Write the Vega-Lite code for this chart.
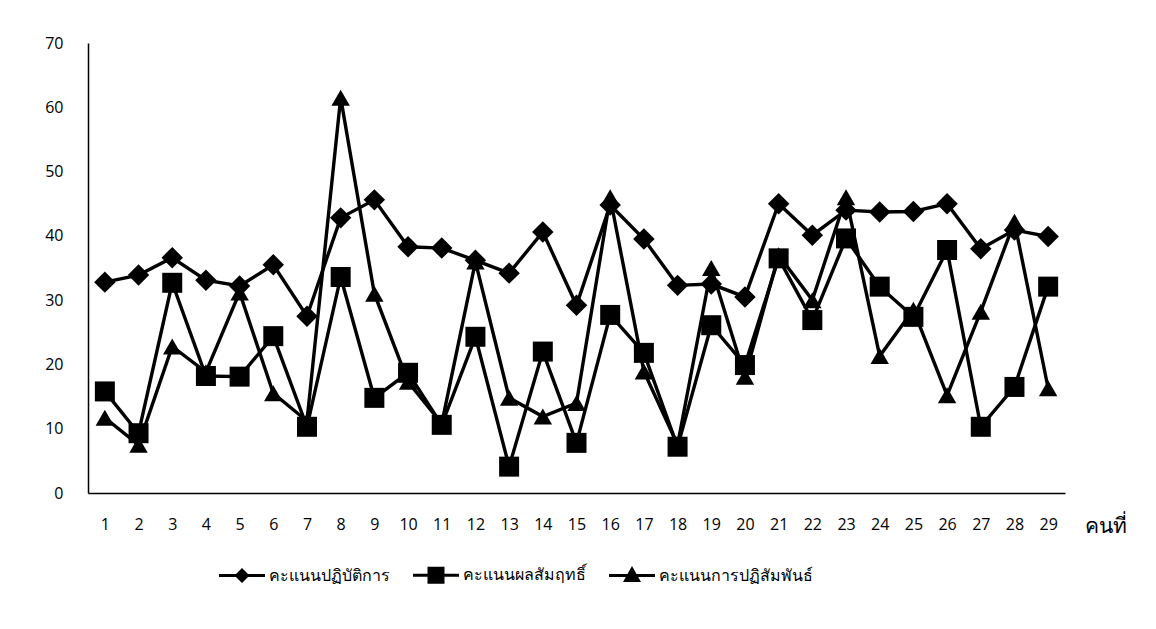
{
  "$schema": "https://vega.github.io/schema/vega-lite/v6.json",
  "width": 977,
  "height": 450,
  "autosize": "none",
  "padding": {"left": 88, "top": 43, "right": 91, "bottom": 136},
  "background": "white",
  "config": {"view": {"stroke": null}, "font": "Open Sans"},
  "data": {"values": [
    {"person": 1, "series": "คะแนนปฏิบัติการ", "score": 32.8},
    {"person": 2, "series": "คะแนนปฏิบัติการ", "score": 33.9},
    {"person": 3, "series": "คะแนนปฏิบัติการ", "score": 36.6},
    {"person": 4, "series": "คะแนนปฏิบัติการ", "score": 33.1},
    {"person": 5, "series": "คะแนนปฏิบัติการ", "score": 32.2},
    {"person": 6, "series": "คะแนนปฏิบัติการ", "score": 35.5},
    {"person": 7, "series": "คะแนนปฏิบัติการ", "score": 27.5},
    {"person": 8, "series": "คะแนนปฏิบัติการ", "score": 42.8},
    {"person": 9, "series": "คะแนนปฏิบัติการ", "score": 45.6},
    {"person": 10, "series": "คะแนนปฏิบัติการ", "score": 38.3},
    {"person": 11, "series": "คะแนนปฏิบัติการ", "score": 38.1},
    {"person": 12, "series": "คะแนนปฏิบัติการ", "score": 36.2},
    {"person": 13, "series": "คะแนนปฏิบัติการ", "score": 34.2},
    {"person": 14, "series": "คะแนนปฏิบัติการ", "score": 40.6},
    {"person": 15, "series": "คะแนนปฏิบัติการ", "score": 29.2},
    {"person": 16, "series": "คะแนนปฏิบัติการ", "score": 44.8},
    {"person": 17, "series": "คะแนนปฏิบัติการ", "score": 39.5},
    {"person": 18, "series": "คะแนนปฏิบัติการ", "score": 32.3},
    {"person": 19, "series": "คะแนนปฏิบัติการ", "score": 32.5},
    {"person": 20, "series": "คะแนนปฏิบัติการ", "score": 30.5},
    {"person": 21, "series": "คะแนนปฏิบัติการ", "score": 45.0},
    {"person": 22, "series": "คะแนนปฏิบัติการ", "score": 40.1},
    {"person": 23, "series": "คะแนนปฏิบัติการ", "score": 44.0},
    {"person": 24, "series": "คะแนนปฏิบัติการ", "score": 43.7},
    {"person": 25, "series": "คะแนนปฏิบัติการ", "score": 43.8},
    {"person": 26, "series": "คะแนนปฏิบัติการ", "score": 45.0},
    {"person": 27, "series": "คะแนนปฏิบัติการ", "score": 38.0},
    {"person": 28, "series": "คะแนนปฏิบัติการ", "score": 40.9},
    {"person": 29, "series": "คะแนนปฏิบัติการ", "score": 39.9},
    {"person": 1, "series": "คะแนนผลสัมฤทธิ์", "score": 15.8},
    {"person": 2, "series": "คะแนนผลสัมฤทธิ์", "score": 9.3},
    {"person": 3, "series": "คะแนนผลสัมฤทธิ์", "score": 32.7},
    {"person": 4, "series": "คะแนนผลสัมฤทธิ์", "score": 18.2},
    {"person": 5, "series": "คะแนนผลสัมฤทธิ์", "score": 18.1},
    {"person": 6, "series": "คะแนนผลสัมฤทธิ์", "score": 24.4},
    {"person": 7, "series": "คะแนนผลสัมฤทธิ์", "score": 10.3},
    {"person": 8, "series": "คะแนนผลสัมฤทธิ์", "score": 33.6},
    {"person": 9, "series": "คะแนนผลสัมฤทธิ์", "score": 14.8},
    {"person": 10, "series": "คะแนนผลสัมฤทธิ์", "score": 18.7},
    {"person": 11, "series": "คะแนนผลสัมฤทธิ์", "score": 10.6},
    {"person": 12, "series": "คะแนนผลสัมฤทธิ์", "score": 24.3},
    {"person": 13, "series": "คะแนนผลสัมฤทธิ์", "score": 4.1},
    {"person": 14, "series": "คะแนนผลสัมฤทธิ์", "score": 22.0},
    {"person": 15, "series": "คะแนนผลสัมฤทธิ์", "score": 7.8},
    {"person": 16, "series": "คะแนนผลสัมฤทธิ์", "score": 27.7},
    {"person": 17, "series": "คะแนนผลสัมฤทธิ์", "score": 21.8},
    {"person": 18, "series": "คะแนนผลสัมฤทธิ์", "score": 7.2},
    {"person": 19, "series": "คะแนนผลสัมฤทธิ์", "score": 26.1},
    {"person": 20, "series": "คะแนนผลสัมฤทธิ์", "score": 19.9},
    {"person": 21, "series": "คะแนนผลสัมฤทธิ์", "score": 36.5},
    {"person": 22, "series": "คะแนนผลสัมฤทธิ์", "score": 26.9},
    {"person": 23, "series": "คะแนนผลสัมฤทธิ์", "score": 39.6},
    {"person": 24, "series": "คะแนนผลสัมฤทธิ์", "score": 32.1},
    {"person": 25, "series": "คะแนนผลสัมฤทธิ์", "score": 27.4},
    {"person": 26, "series": "คะแนนผลสัมฤทธิ์", "score": 37.8},
    {"person": 27, "series": "คะแนนผลสัมฤทธิ์", "score": 10.3},
    {"person": 28, "series": "คะแนนผลสัมฤทธิ์", "score": 16.5},
    {"person": 29, "series": "คะแนนผลสัมฤทธิ์", "score": 32.1},
    {"person": 1, "series": "คะแนนการปฏิสัมพันธ์", "score": 11.7},
    {"person": 2, "series": "คะแนนการปฏิสัมพันธ์", "score": 7.5},
    {"person": 3, "series": "คะแนนการปฏิสัมพันธ์", "score": 22.8},
    {"person": 4, "series": "คะแนนการปฏิสัมพันธ์", "score": 18.8},
    {"person": 5, "series": "คะแนนการปฏิสัมพันธ์", "score": 31.2},
    {"person": 6, "series": "คะแนนการปฏิสัมพันธ์", "score": 15.5},
    {"person": 7, "series": "คะแนนการปฏิสัมพันธ์", "score": 11.2},
    {"person": 8, "series": "คะแนนการปฏิสัมพันธ์", "score": 61.5},
    {"person": 9, "series": "คะแนนการปฏิสัมพันธ์", "score": 31.0},
    {"person": 10, "series": "คะแนนการปฏิสัมพันธ์", "score": 17.3},
    {"person": 11, "series": "คะแนนการปฏิสัมพันธ์", "score": 10.8},
    {"person": 12, "series": "คะแนนการปฏิสัมพันธ์", "score": 36.0},
    {"person": 13, "series": "คะแนนการปฏิสัมพันธ์", "score": 14.8},
    {"person": 14, "series": "คะแนนการปฏิสัมพันธ์", "score": 11.9},
    {"person": 15, "series": "คะแนนการปฏิสัมพันธ์", "score": 14.0},
    {"person": 16, "series": "คะแนนการปฏิสัมพันธ์", "score": 46.0},
    {"person": 17, "series": "คะแนนการปฏิสัมพันธ์", "score": 18.9},
    {"person": 18, "series": "คะแนนการปฏิสัมพันธ์", "score": 7.5},
    {"person": 19, "series": "คะแนนการปฏิสัมพันธ์", "score": 35.0},
    {"person": 20, "series": "คะแนนการปฏิสัมพันธ์", "score": 18.1},
    {"person": 21, "series": "คะแนนการปฏิสัมพันธ์", "score": 37.0},
    {"person": 22, "series": "คะแนนการปฏิสัมพันธ์", "score": 30.0},
    {"person": 23, "series": "คะแนนการปฏิสัมพันธ์", "score": 46.0},
    {"person": 24, "series": "คะแนนการปฏิสัมพันธ์", "score": 21.3},
    {"person": 25, "series": "คะแนนการปฏิสัมพันธ์", "score": 28.5},
    {"person": 26, "series": "คะแนนการปฏิสัมพันธ์", "score": 15.2},
    {"person": 27, "series": "คะแนนการปฏิสัมพันธ์", "score": 28.2},
    {"person": 28, "series": "คะแนนการปฏิสัมพันธ์", "score": 42.2},
    {"person": 29, "series": "คะแนนการปฏิสัมพันธ์", "score": 16.3}
  ]},
  "encoding": {
    "x": {
      "field": "person",
      "type": "ordinal",
      "scale": {"padding": 0.5},
      "axis": {
        "labelAngle": 0,
        "labelFontSize": 16,
        "labelColor": "black",
        "labelPadding": 23,
        "labelBaseline": "top",
        "ticks": false,
        "domainColor": "black",
        "domainWidth": 1.5,
        "title": "คนที่",
        "titleFontSize": 21,
        "titleFontWeight": "normal",
        "titleColor": "black",
        "titleAnchor": "start",
        "titleAlign": "left",
        "titleBaseline": "middle",
        "titleX": 996,
        "titleY": 33
      }
    },
    "y": {
      "field": "score",
      "type": "quantitative",
      "scale": {"domain": [0, 70], "nice": false},
      "axis": {
        "values": [0, 10, 20, 30, 40, 50, 60, 70],
        "labelFontSize": 16,
        "labelColor": "black",
        "labelPadding": 25,
        "ticks": false,
        "grid": false,
        "domainColor": "black",
        "domainWidth": 1.5,
        "title": null
      }
    }
  },
  "layer": [
    {
      "mark": {"type": "line", "color": "black", "strokeWidth": 3.4},
      "encoding": {"detail": {"field": "series", "type": "nominal"}}
    },
    {
      "mark": {"type": "point", "filled": true, "color": "black", "opacity": 1},
      "encoding": {
        "shape": {
          "field": "series",
          "type": "nominal",
          "scale": {
            "domain": ["คะแนนปฏิบัติการ", "คะแนนผลสัมฤทธิ์", "คะแนนการปฏิสัมพันธ์"],
            "range": ["diamond", "square", "triangle-up"]
          },
          "legend": null
        },
        "size": {
          "field": "series",
          "type": "nominal",
          "scale": {
            "domain": ["คะแนนปฏิบัติการ", "คะแนนผลสัมฤทธิ์", "คะแนนการปฏิสัมพันธ์"],
            "range": [460, 340, 360]
          },
          "legend": null
        }
      }
    },
    {
      "mark": {"type": "point", "filled": true, "color": "black", "opacity": 0, "size": 10},
      "encoding": {
        "shape": {
          "field": "series",
          "type": "nominal",
          "scale": {
            "domain": ["คะแนนปฏิบัติการ", "คะแนนผลสัมฤทธิ์", "คะแนนการปฏิสัมพันธ์"],
            "range": [
              "M-0.92,-0.06L0.92,-0.06L0.92,0.06L-0.92,0.06ZM0,-0.3L0.3,0L0,0.3L-0.3,0Z",
              "M-0.92,-0.06L0.92,-0.06L0.92,0.06L-0.92,0.06ZM-0.34,-0.34L0.34,-0.34L0.34,0.34L-0.34,0.34Z",
              "M-0.92,-0.06L0.92,-0.06L0.92,0.06L-0.92,0.06ZM0,-0.38L0.36,0.26L-0.36,0.26Z"
            ]
          },
          "legend": {
            "orient": "none",
            "legendX": 129,
            "legendY": 507,
            "direction": "horizontal",
            "title": null,
            "symbolSize": 2500,
            "symbolFillColor": "black",
            "symbolStrokeWidth": 0,
            "symbolOpacity": 1,
            "labelFontSize": 16,
            "labelColor": "black",
            "labelOffset": 2,
            "columnPadding": 21,
            "padding": 0,
            "encode": {
              "symbols": {
                "update": {
                  "fill": {"value": "black"},
                  "opacity": {"value": 1}
                }
              }
            }
          }
        }
      }
    }
  ],
  "resolve": {"scale": {"shape": "independent", "size": "independent"}}
}
